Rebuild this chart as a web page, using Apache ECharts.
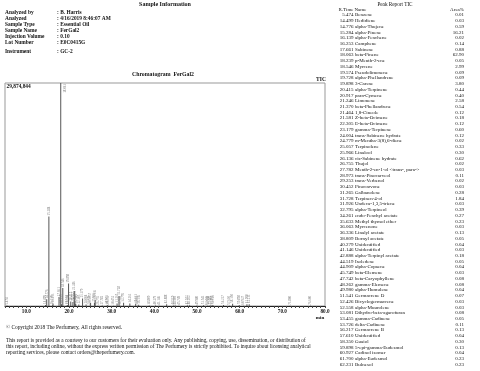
<!DOCTYPE html>
<html><head><meta charset="utf-8">
<script src="https://cdn.jsdelivr.net/npm/echarts@6/dist/echarts.min.js"></script>
<style>html,body{margin:0;padding:0;background:#fff}#c{width:480px;height:371px}</style>
</head><body><div id="c"></div>
<script>
const infoLabels = ["Analyzed by","Analyzed","Sample Type","Sample Name","Injection Volume","Lot Number","Instrument"];
const infoValues = [": B. Harris",": 4/16/2019 8:46:07 AM",": Essential Oil",": FerGal2",": 0.10",": E0C0415G",": GC-2"];

const rTimes = [5.474,14.499,14.776,15.284,16.139,16.253,17.661,18.063,18.239,18.546,19.574,19.728,19.898,20.415,20.917,21.246,21.370,21.464,21.581,22.305,23.179,24.004,24.779,25.057,25.966,26.136,26.755,27.782,28.973,29.253,30.452,31.265,31.728,31.926,32.795,34.261,35.633,36.063,36.336,38.809,40.279,41.146,42.888,44.519,44.909,45.749,47.742,48.262,49.980,51.541,52.426,52.558,53.081,53.455,53.726,56.217,57.610,58.350,59.898,60.927,61.700,62.231];
const names = ["Benzene","Hedidiene","alpha-Thujene","alpha-Pinene","alpha-Fenchene","Camphene","Sabinene","beta-Pinene","p-Menth-2-ene","Myrcene","Pseudolimonene","alpha-Phellandrene","3-Carene","alpha-Terpinene","para-Cymene","Limonene","beta-Phellandrene","1,8-Cineole","Z-beta-Ocimene","E-beta-Ocimene","gamma-Terpinene","trans-Sabinene hydrate","m-Mentha-3(8),6-diene","Terpinolene","Linalool","cis-Sabinene hydrate","Thujol","Menth-2-en-1-ol <trans-, para->","trans-Pinocarveol","trans-Verbenol","Pinocarvone","Galbanolene","Terpinen-4-ol","Undeca-1,3,5-triene","alpha-Terpineol","endo-Fenchyl acetate","Methyl thymol ether","Myrcenone","Linalyl acetate","Bornyl acetate","Unidentified","Unidentified","alpha-Terpinyl acetate","Isoledene","alpha-Copaene","beta-Elemene","beta-Caryophyllene","gamma-Elemene","alpha-Humulene","Germacrene D","Bicyclogermacrene","alpha-Muurolene","Dihydro-beta-agarofuran","gamma-Cadinene","delta-Cadinene","Germacrene B","Unidentified","Guaiol","5-epi-gamma-Eudesmol","Cadinol isomer","alpha-Eudesmol","Bulnesol"];
const areas = [0.01,0.03,0.59,16.21,0.02,0.14,0.88,62.90,0.05,2.99,0.09,0.09,3.80,0.44,0.40,2.58,0.54,0.12,0.18,0.12,0.60,0.12,0.02,0.33,0.30,0.62,0.02,0.03,0.11,0.02,0.03,0.28,1.84,0.03,0.39,0.27,0.23,0.03,0.13,0.05,0.04,0.03,0.18,0.05,0.04,0.03,0.08,0.08,0.04,0.07,0.03,0.03,0.08,0.05,0.11,0.13,0.04,0.30,0.13,0.04,0.23,0.23];
// peak heights (counts)
const peakHeights = [60000,150000,900000,12000000,100000,350000,1200000,29874844,250000,2400000,150000,150000,3000000,600000,550000,2000000,700000,200000,300000,200000,1000000,200000,50000,450000,450000,850000,50000,60000,150000,40000,50000,350000,1350000,50000,450000,350000,300000,50000,180000,70000,60000,50000,220000,70000,60000,50000,100000,100000,60000,90000,50000,50000,100000,70000,130000,150000,50000,300000,150000,50000,250000,250000];
const extraTimes = [71.8,76.6];
const extraHeights = [50000,50000];
const yMax = 29874844;
const xTickLabels = [10,20,30,40,50,60,70,80];
const xMinorTicks = [];
for (let t = 5; t <= 80; t++) xMinorTicks.push(t);

const FF = '"Liberation Serif","Times New Roman",serif';
const peakData = rTimes.map((t,i)=>[t, peakHeights[i]]).concat(extraTimes.map((t,i)=>[t, extraHeights[i]]));
const seriesData = peakData.map(d => {
  const o = {value: d};
  if (d[1] >= yMax) o.label = {position: [5, 1], align: 'right', verticalAlign: 'middle'};
  return o;
});

const g = [];
function txt(s, x, y, font, align, va, fill){
  g.push({type:'text', silent:true, style:{text:s, x:x, y:y, font:font, fill:fill||'#111',
    textAlign:align||'left', align:align||'left', textVerticalAlign:va||'middle', verticalAlign:va||'middle'}});
}
txt('Sample Information', 165, 4.5, 'bold 6px '+FF, 'center');
const infoY = [12.7,18.5,24.6,30.6,36.6,42.6,51.7];
infoLabels.forEach((l,i)=>{ txt(l, 5, infoY[i], 'bold 5.4px '+FF); txt(infoValues[i], 57, infoY[i], 'bold 5.4px '+FF); });
txt('Chromatogram  FerGal2', 163, 74.5, 'bold 5.8px '+FF, 'center');
txt('TIC', 321, 79.5, 'bold 5.5px '+FF, 'center');
txt(yMax.toLocaleString('en-US'), 6.5, 86.7, 'bold 5.4px '+FF);
txt('min', 320, 318, 'bold 5px '+FF, 'center');
txt('\u00A9 Copyright 2018 The Perfumery, All rights reserved.', 6, 327.7, '5.35px '+FF);
txt('This report is provided as a courtesy to our customers for their evaluation only. Any publishing, copying, use, dissemination, or distribution of', 6, 341, '5.28px '+FF);
txt('this report, including online, without the express written permission of The Perfumery is strictly prohibited. To inquire about licensing analytical', 6, 346.7, '5.28px '+FF);
txt('reporting services, please contact orders@theperfumery.com.', 6, 352.3, '5.28px '+FF);
// peak table
txt('Peak Report TIC', 395, 4.7, '5.2px '+FF, 'center');
txt('R.Time', 353.5, 9.7, '5px '+FF, 'right');
txt('Name', 354.5, 9.7, '5px '+FF);
txt('Area%', 464, 9.7, '5px '+FF, 'right');
rTimes.forEach((t,i)=>{
  const y = 15 + i*5.73;
  txt(t.toFixed(3), 353.5, y, '5px '+FF, 'right');
  txt(names[i], 355, y, '5px '+FF);
  txt(areas[i].toFixed(2), 464, y, '5px '+FF, 'right');
});

const chart = echarts.init(document.getElementById('c'), null, {renderer:'canvas'});
chart.setOption({
  animation:false,
  textStyle:{fontFamily:FF},
  grid:{left:5, right:155, top:83, bottom:65, show:true, borderColor:'#999', borderWidth:1, containLabel:false},
  xAxis:{type:'value', min:5, max:80,
    axisLine:{show:true, lineStyle:{color:'#222', width:1}},
    axisTick:{show:true, customValues:xMinorTicks, length:2, lineStyle:{color:'#444'}},
    axisLabel:{show:true, customValues:xTickLabels, formatter:v=>v.toFixed(1), fontSize:5.2, fontWeight:'bold', color:'#111', margin:3, fontFamily:FF},
    splitLine:{show:false}},
  yAxis:{type:'value', min:0, max:yMax, show:false, splitLine:{show:false}},
  series:[{type:'bar', data:seriesData, barWidth:1, itemStyle:{color:'#555'},
    label:{show:true, position:'top', rotate:90, align:'left', verticalAlign:'middle', distance:1,
      fontSize:3.2, color:'#777', fontFamily:FF, formatter:p=>p.value[0].toFixed(3)}}],
  graphic:{elements:g}
});
</script></body></html>
